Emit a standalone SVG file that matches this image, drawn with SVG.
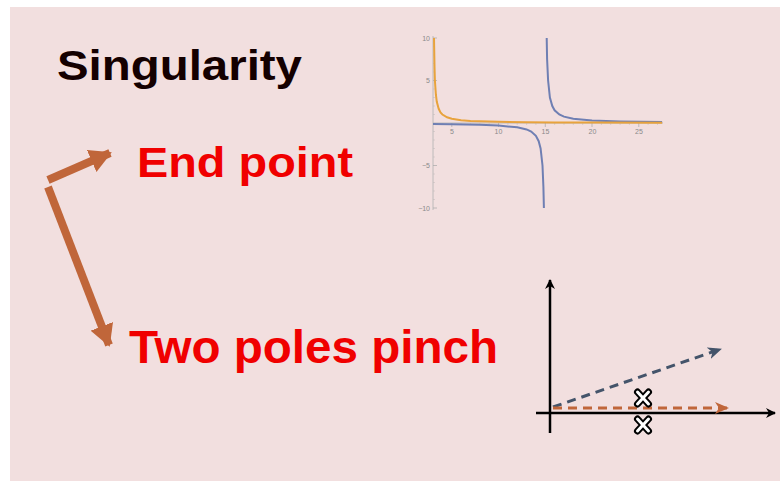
<svg xmlns="http://www.w3.org/2000/svg" width="780" height="481" viewBox="0 0 780 481">
<defs>
<style>
.title{font-family:"Liberation Sans",Arial,sans-serif;font-weight:bold;}
.tick{font-family:"Liberation Sans",Arial,sans-serif;font-size:7px;fill:#8a8a8a;}
.ax{stroke:#b0b0b0;stroke-width:0.8;fill:none;}
.mt{stroke:#c0b8b8;stroke-width:0.5;}
.brown{stroke:#c0663a;stroke-width:8;fill:none;}
</style>
<marker id="hb" markerWidth="22" markerHeight="24" refX="20" refY="12" orient="auto" markerUnits="userSpaceOnUse">
<path d="M0,0 L22,12 L0,24 Z" fill="#c0663a"/>
</marker>
<marker id="hk" markerWidth="10" markerHeight="10" refX="9" refY="5" orient="auto" markerUnits="userSpaceOnUse">
<path d="M0,0 L10,5 L0,10 L3,5 Z" fill="#000"/>
</marker>
<marker id="hg" markerWidth="14" markerHeight="12" refX="13" refY="6" orient="auto" markerUnits="userSpaceOnUse">
<path d="M0,0 L14,6 L0,12 L4,6 Z" fill="#44546a"/>
</marker>
<marker id="ho" markerWidth="14" markerHeight="12" refX="13" refY="6" orient="auto" markerUnits="userSpaceOnUse">
<path d="M0,0 L14,6 L0,12 L4,6 Z" fill="#c0663a"/>
</marker>
</defs>
<rect x="10" y="7" width="770" height="474" fill="#f2dfdf"/>

<g id="singularity"><text class="title" x="57" y="80" font-size="42" fill="#140000" textLength="245" lengthAdjust="spacingAndGlyphs">Singularity</text></g>
<g id="end-point"><text class="title" x="137" y="177" font-size="43" fill="#f00000" textLength="216" lengthAdjust="spacingAndGlyphs">End point</text></g>
<g id="two-poles-pinch"><text class="title" x="129" y="363" font-size="46" fill="#f00000" textLength="369" lengthAdjust="spacingAndGlyphs">Two poles pinch</text></g>

<g id="connectors">
<line class="brown" x1="48" y1="180" x2="110" y2="153" marker-end="url(#hb)"/>
<line class="brown" x1="48" y1="187" x2="109" y2="345" marker-end="url(#hb)"/>
</g>

<g id="plot">
<line class="ax" x1="433" y1="123" x2="663" y2="123"/>
<line class="ax" x1="433" y1="36" x2="433" y2="210"/>
<g class="mt">
<line x1="442.4" y1="123" x2="442.4" y2="125"/><line x1="461.1" y1="123" x2="461.1" y2="125"/><line x1="470.5" y1="123" x2="470.5" y2="125"/><line x1="479.8" y1="123" x2="479.8" y2="125"/><line x1="489.2" y1="123" x2="489.2" y2="125"/><line x1="507.9" y1="123" x2="507.9" y2="125"/><line x1="517.2" y1="123" x2="517.2" y2="125"/><line x1="526.6" y1="123" x2="526.6" y2="125"/><line x1="535.9" y1="123" x2="535.9" y2="125"/><line x1="554.6" y1="123" x2="554.6" y2="125"/><line x1="564" y1="123" x2="564" y2="125"/><line x1="573.3" y1="123" x2="573.3" y2="125"/><line x1="582.7" y1="123" x2="582.7" y2="125"/><line x1="601.4" y1="123" x2="601.4" y2="125"/><line x1="610.7" y1="123" x2="610.7" y2="125"/><line x1="620.1" y1="123" x2="620.1" y2="125"/><line x1="629.4" y1="123" x2="629.4" y2="125"/><line x1="648.1" y1="123" x2="648.1" y2="125"/><line x1="657.5" y1="123" x2="657.5" y2="125"/>
<line x1="433" y1="46.5" x2="435" y2="46.5"/><line x1="433" y1="55" x2="435" y2="55"/><line x1="433" y1="63.5" x2="435" y2="63.5"/><line x1="433" y1="72" x2="435" y2="72"/><line x1="433" y1="89" x2="435" y2="89"/><line x1="433" y1="97.5" x2="435" y2="97.5"/><line x1="433" y1="106" x2="435" y2="106"/><line x1="433" y1="114.5" x2="435" y2="114.5"/><line x1="433" y1="131.5" x2="435" y2="131.5"/><line x1="433" y1="140" x2="435" y2="140"/><line x1="433" y1="148.5" x2="435" y2="148.5"/><line x1="433" y1="157" x2="435" y2="157"/><line x1="433" y1="174" x2="435" y2="174"/><line x1="433" y1="182.5" x2="435" y2="182.5"/><line x1="433" y1="191" x2="435" y2="191"/><line x1="433" y1="199.5" x2="435" y2="199.5"/>
</g>
<g stroke="#a8a8a8" stroke-width="0.7">
<line x1="451.8" y1="123" x2="451.8" y2="127"/><line x1="498.5" y1="123" x2="498.5" y2="127"/><line x1="545.3" y1="123" x2="545.3" y2="127"/><line x1="592" y1="123" x2="592" y2="127"/><line x1="638.8" y1="123" x2="638.8" y2="127"/>
<line x1="433" y1="38" x2="437" y2="38"/><line x1="433" y1="80.5" x2="437" y2="80.5"/><line x1="433" y1="165.5" x2="437" y2="165.5"/><line x1="433" y1="208" x2="437" y2="208"/>
</g>
<g class="tick" text-anchor="middle">
<text x="452" y="134">5</text><text x="498.5" y="134">10</text><text x="545.5" y="134">15</text><text x="592.5" y="134">20</text><text x="639" y="134">25</text>
</g>
<g class="tick" text-anchor="end">
<text x="430" y="40.5">10</text><text x="430" y="83">5</text><text x="430" y="168">−5</text><text x="430" y="210.5">−10</text>
</g>
<polyline fill="none" stroke="#6f7fb3" stroke-width="2" points="433,124.1 451.8,124.3 479.8,124.8 498.5,125.6 517.2,127.3 526.6,129.4 531.2,131.5 535.9,135.8 538.7,141.2 540.6,148.5 542.5,165.5 543.4,186.8 543.9,208"/>
<polyline fill="none" stroke="#6f7fb3" stroke-width="2" points="546.7,38 547.1,59.3 548.1,80.5 549.9,97.5 552.3,106 554.6,110.3 559.3,114.5 564,116.6 573.3,118.8 592,120.5 620.1,121.4 662.1,122"/>
<polyline fill="none" stroke="#e8a33d" stroke-width="2" points="434,38 434.5,66.3 434.9,80.5 435.9,94.7 436.8,101.8 438.7,108.8 440.5,112.4 442.4,114.5 447.1,117.3 451.8,118.8 461.1,120.2 470.5,120.9 479.8,121.3 498.5,121.8 526.6,122.2 554.6,122.4 592,122.5 662.1,122.7"/>
</g>

<g id="pinch-plot">
<line x1="550" y1="433" x2="550" y2="280" stroke="#000" stroke-width="2.5" marker-end="url(#hk)"/>
<line x1="536" y1="413" x2="775" y2="413" stroke="#000" stroke-width="2.5" marker-end="url(#hk)"/>
<line x1="553" y1="407" x2="721" y2="349" stroke="#44546a" stroke-width="3" stroke-dasharray="9,6" marker-end="url(#hg)"/>
<line x1="553" y1="408" x2="728" y2="408" stroke="#c0663a" stroke-width="3" stroke-dasharray="9,6" marker-end="url(#ho)"/>
<g id="pole-upper">
<path d="M637.5,392 L648.5,404 M648.5,392 L637.5,404" stroke="#000" stroke-width="7" stroke-linecap="round"/>
<path d="M637.5,392 L648.5,404 M648.5,392 L637.5,404" stroke="#fff" stroke-width="3" stroke-linecap="round"/>
</g>
<g id="pole-lower">
<path d="M637.5,419 L648.5,431 M648.5,419 L637.5,431" stroke="#000" stroke-width="7" stroke-linecap="round"/>
<path d="M637.5,419 L648.5,431 M648.5,419 L637.5,431" stroke="#fff" stroke-width="3" stroke-linecap="round"/>
</g>
</g>
</svg>
